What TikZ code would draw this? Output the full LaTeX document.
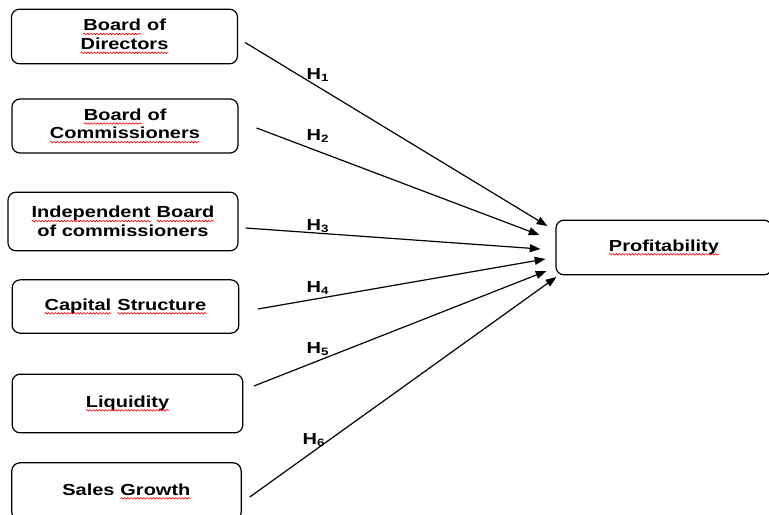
\documentclass[tikz,border=0pt]{standalone}
\usepackage{fontspec}
\setmainfont{Liberation Sans}[FakeStretch=1.25]
\usetikzlibrary{arrows.meta, decorations.pathmorphing}

% red spell-check wave under a word
\newcommand\spell[1]{\tikz[baseline=(w.base), x=1cm, y=1cm]{%
    \node[inner sep=0pt, outer sep=0pt, draw=none, rounded corners=0pt, anchor=base,
        minimum width=0pt, minimum height=0pt] (w) {#1};%
    \draw[red, line width=0.45pt, sharp corners, decorate,
        decoration={snake, amplitude=0.6pt, segment length=2.4pt}]
        ([yshift=-2.4pt]w.base west) -- ([yshift=-2.4pt]w.base east);}}

\tikzset{
    var/.style={draw, line width=0.9pt, rounded corners=6pt, align=center,
        font=\fontsize{12}{14}\selectfont\bfseries, inner sep=0pt},
    hyp/.style={font=\fontsize{12}{14}\selectfont\bfseries, inner sep=0pt},
    arr/.style={line width=0.9pt, -{Triangle[length=8pt, width=6pt]}}
}

\begin{document}
\begin{tikzpicture}[x=0.75pt, y=-0.75pt]

    % Picture frame (pixels)
    \def\picw{769}
    \def\pich{515}
    \useasboundingbox (0,0) rectangle (\picw,\pich);
    \clip (0,0) rectangle (\picw,\pich);

    % Independent variables
    \node[var, minimum width=169.5pt, minimum height=41pt] (dir) at (124.5, 36.5)
        {\spell{Board} of\\\spell{Directors}};
    \node[var, minimum width=169.5pt, minimum height=40.5pt] (com) at (125, 126)
        {\spell{Board} of\\\spell{Commissioners}};
    \node[var, minimum width=172.5pt, minimum height=44pt] (ind) at (123, 221.5)
        {\spell{Independent} \spell{Board}\\of commissioners};
    \node[var, minimum width=170pt, minimum height=40pt] (cap) at (125.5, 306.5)
        {\spell{Capital} \spell{Structure}};
    \node[var, minimum width=173pt, minimum height=44pt] (liq) at (127.5, 403.5)
        {\spell{Liquidity}};
    \node[var, minimum width=172pt, minimum height=43pt] (sal) at (126.5, 491.5)
        {Sales \spell{Growth}};

    % Dependent variable
    \node[var, minimum width=162pt, minimum height=41pt] (prof) at (664, 247.5)
        {\spell{Profitability}};

    % Hypotheses
    \draw[arr] ([shift={(7,6)}]dir.east)  -- ([shift={(-8,-21.5)}]prof.west);
    \draw[arr] ([shift={(18,2)}]com.east) -- ([shift={(-16,-12.5)}]prof.west);
    \draw[arr] ([shift={(7,6.5)}]ind.east) -- ([shift={(-15,1.5)}]prof.west);
    \draw[arr] ([shift={(18.5,2.5)}]cap.east) -- ([shift={(-10,11.5)}]prof.west);
    \draw[arr] ([shift={(10.5,-17.5)}]liq.east) -- ([shift={(-9,23.5)}]prof.west);
    \draw[arr] ([shift={(8,5.5)}]sal.east) -- ([shift={(1,29.5)}]prof.west);

    % Labels
    \node[hyp] (h1) at (318, 75)  {H\textsubscript{1}};
    \node[hyp] (h2) at (318, 136) {H\textsubscript{2}};
    \node[hyp] (h3) at (318, 226) {H\textsubscript{3}};
    \node[hyp] (h4) at (318, 288) {H\textsubscript{4}};
    \node[hyp] (h5) at (318, 349) {H\textsubscript{5}};
    \node[hyp] (h6) at (314, 440) {H\textsubscript{6}};

\end{tikzpicture}
\end{document}
